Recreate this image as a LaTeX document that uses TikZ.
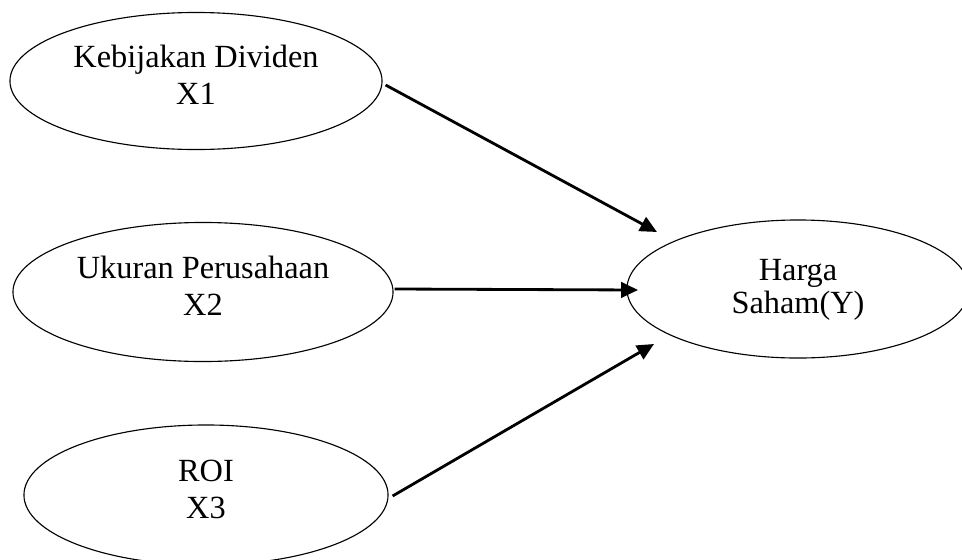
\documentclass[tikz,border=0pt]{standalone}
\usepackage{fontspec}
\setmainfont{Liberation Serif}
\usepackage{tikz}
\usetikzlibrary{arrows,arrows.meta,shapes,positioning,calc}

\begin{document}
\begin{tikzpicture}[x=0.025cm,y=-0.025cm]

        \tikzstyle{every node}=[font=\fontsize{23}{26.1}\selectfont, align=center]
        \tikzstyle{var}=[draw, ellipse, line width=0.8pt, inner sep=0pt, text depth=8.5pt]
        \tikzstyle{path arrow}=[-{Triangle[length=12pt,width=11pt]}, line width=2pt]

        \useasboundingbox (0,0) rectangle (962,560);

        \node[var, minimum width=9.3cm, minimum height=3.425cm] (X1) at (196,81) {Kebijakan Dividen\\X1};
        \node[var, minimum width=9.5cm, minimum height=3.475cm] (X2) at (203,292) {Ukuran Perusahaan\\X2};
        \node[var, minimum width=9.1cm, minimum height=3.5cm] (X3) at (206,495) {ROI\\X3};
        \node[var, minimum width=8.55cm, minimum height=3.45cm, text depth=4pt,
              font=\fontsize{23}{23.5}\selectfont] (Y) at (798,289) {Harga\\Saham(Y)};

        \draw[path arrow] ([shift={(3,4)}]X1.east) -- ([shift={(-141,-57)}]Y.center);
        \draw[path arrow] ([shift={(1,-3)}]X2.east) -- ([shift={(-160,1)}]Y.center);
        \draw[path arrow] ([shift={(4,1)}]X3.east) -- ([shift={(-144,55)}]Y.center);

\end{tikzpicture}
\end{document}
